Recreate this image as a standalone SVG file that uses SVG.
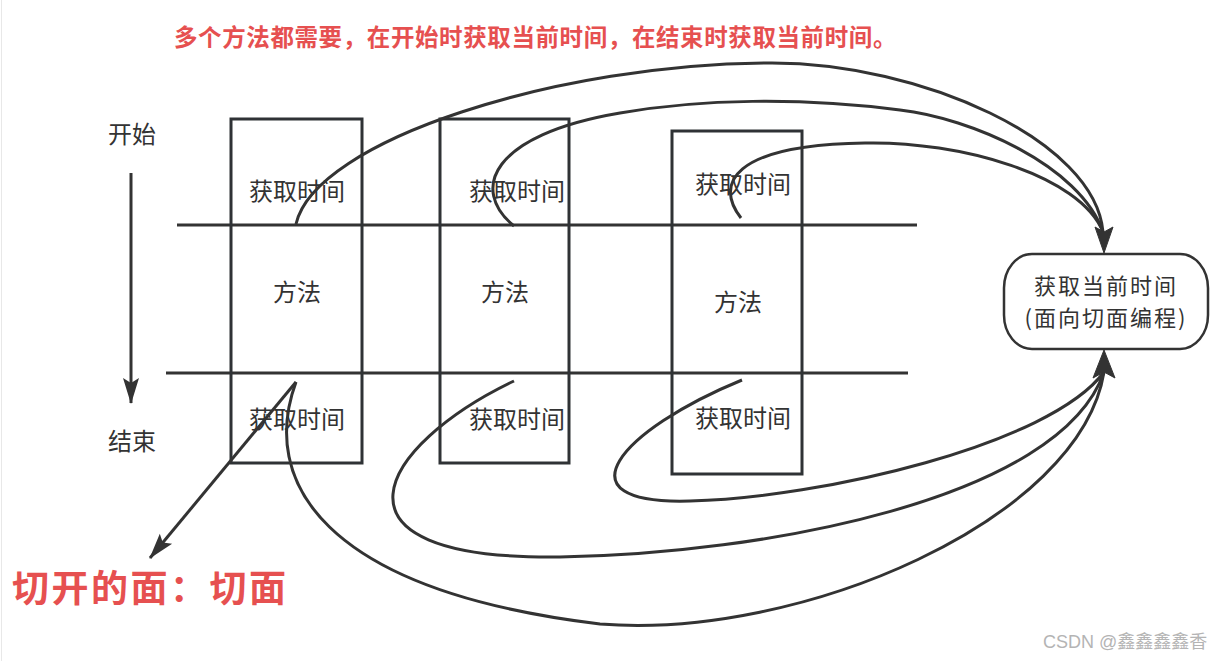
<svg xmlns="http://www.w3.org/2000/svg" width="1229" height="661" viewBox="0 0 1229 661">
<defs>
<style>
.bg{fill:#ffffff}
.ln{fill:none;stroke:#333333;stroke-width:3}
.box{fill:none;stroke:#2f3235;stroke-width:3}
.cv{fill:none;stroke:#333333;stroke-width:3}
.head{fill:#333333;stroke:#333333;stroke-width:1;stroke-linejoin:round}
.lbl{font-family:"Noto Sans CJK SC","Noto Sans",sans-serif;font-size:24px;fill:#333333;text-anchor:middle}
.nlbl{font-family:"Noto Sans CJK SC","Noto Sans",sans-serif;font-size:22px;letter-spacing:2px;fill:#333333;text-anchor:middle}
.red{font-family:"Noto Sans CJK SC","Noto Sans",sans-serif;font-weight:bold;fill:#e65050}
.wm{font-family:"Liberation Sans","Noto Sans CJK SC",sans-serif;font-size:18px;fill:#b4b4b4}
</style>
<marker id="arr" markerUnits="userSpaceOnUse" markerWidth="26" markerHeight="18" viewBox="0 0 26 18" refX="25" refY="9" orient="auto">
<path d="M0,1 L26,9 L0,17 L5,9 Z" fill="#333333"/>
</marker>
</defs>
<rect class="bg" x="0" y="0" width="1229" height="661"/>
<line x1="1.5" y1="0" x2="1.5" y2="661" stroke="#e8e8e8" stroke-width="1"/>

<g id="title">
<text class="red" x="174" y="46" font-size="23.5" letter-spacing="0.6">多个方法都需要，在开始时获取当前时间，在结束时获取当前时间。</text>
</g>

<g id="start-label"><text class="lbl" x="132" y="143">开始</text></g>
<g id="end-label"><text class="lbl" x="132" y="450">结束</text></g>

<g id="cut-lines">
<line class="ln" x1="177" y1="225" x2="917" y2="225"/>
<line class="ln" x1="166" y1="373" x2="908" y2="373"/>
</g>

<g id="method1">
<rect class="box" x="231" y="119" width="131" height="344"/>
<text class="lbl" x="297" y="200">获取时间</text>
<text class="lbl" x="297" y="301">方法</text>
<text class="lbl" x="297" y="428">获取时间</text>
</g>

<g id="method2">
<rect class="box" x="440" y="119" width="129" height="344"/>
<text class="lbl" x="517" y="200">获取时间</text>
<text class="lbl" x="505" y="301">方法</text>
<text class="lbl" x="517" y="428">获取时间</text>
</g>

<g id="method3">
<rect class="box" x="672" y="131" width="130" height="343"/>
<text class="lbl" x="743" y="193">获取时间</text>
<text class="lbl" x="738" y="311">方法</text>
<text class="lbl" x="743" y="427">获取时间</text>
</g>

<g id="aop-node">
<rect x="1004" y="254" width="204" height="95" rx="28" ry="34" fill="#ffffff" stroke="#333333" stroke-width="2.5"/>
<text class="nlbl" x="1106" y="294">获取当前时间</text>
<text class="nlbl" x="1106" y="326">(面向切面编程)</text>
</g>

<g id="cut-face-label">
<text class="red" x="12" y="602" font-size="37" letter-spacing="2.5">切开的面：切面</text>
</g>

<g id="connectors">
<line class="ln" x1="131" y1="173" x2="131" y2="403" marker-end="url(#arr)"/>
<line class="ln" x1="296" y1="382" x2="150" y2="558" marker-end="url(#arr)"/>
<path class="cv" d="M296,224 C315,140 560,63 772,63 C920,63 1095,140 1103,232"/>
<path class="cv" d="M514,226 C470,190 490,135 620,113 C700,99 800,97 900,110 C970,118 1080,165 1103,232"/>
<path class="cv" d="M741,218 C715,185 730,145 865,143 C960,141 1080,175 1103,232"/>
<path class="cv" d="M296,382 C260,480 320,590 600,624 C800,640 1080,520 1104,372"/>
<path class="cv" d="M514,381 C380,445 310,560 560,557 C760,554 1060,500 1104,372"/>
<path class="cv" d="M742,380 C620,430 555,505 690,501 C820,498 1050,445 1104,372"/>
<path class="head" d="M1104,253 L1095,227 L1104,232 L1113,227 Z"/>
<path class="head" d="M1104,350 L1115,378 L1104,372 L1093,378 Z"/>
</g>

<g id="watermark">
<text class="wm" x="1043" y="648">CSDN @鑫鑫鑫鑫香</text>
</g>
</svg>
